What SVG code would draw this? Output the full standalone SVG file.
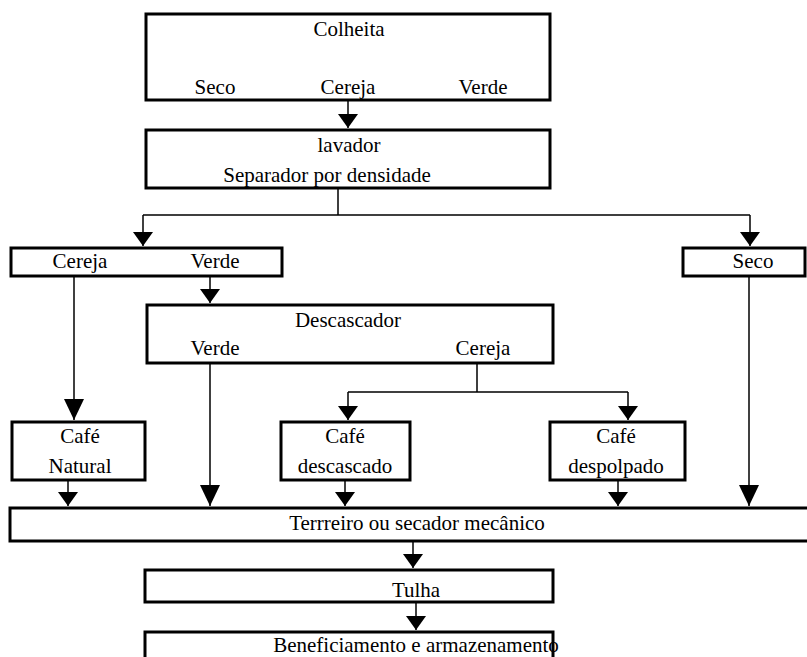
<svg xmlns="http://www.w3.org/2000/svg" width="807" height="657" viewBox="0 0 807 657">
  <style>
    .box { fill: #fff; stroke: #000; stroke-width: 3; }
    .lbl { font-family: "Liberation Serif", "Times New Roman", serif; font-size: 21px; fill: #000; text-anchor: middle; }
    .wire { fill: none; stroke: #000; stroke-width: 1.5; }
    .arr { marker-end: url(#head); }
    .arrL { marker-end: url(#headLong); }
  </style>
  <defs>
    <!-- filled triangular head: 14 long, 20 wide -->
    <marker id="head" viewBox="0 0 14 20" refX="14" refY="10" markerWidth="14" markerHeight="20" markerUnits="userSpaceOnUse" orient="auto">
      <path d="M0,0 L14,10 L0,20 Z" fill="#000"/>
    </marker>
    <!-- longer head used on the tall drop lines -->
    <marker id="headLong" viewBox="0 0 21 20" refX="21" refY="10" markerWidth="21" markerHeight="20" markerUnits="userSpaceOnUse" orient="auto">
      <path d="M0,0 L21,10 L0,20 Z" fill="#000"/>
    </marker>
  </defs>
  <rect width="807" height="657" fill="#fff"/>

  <g id="connectors">
    <path class="wire arr" d="M348,100 V128"/>
    <path class="wire" d="M338,188 V215 M143,215 H750"/>
    <path class="wire arr" d="M143,215 V246"/>
    <path class="wire arr" d="M750,215 V246"/>
    <path class="wire arrL" d="M74,276 V420"/>
    <path class="wire arr" d="M210,276 V303"/>
    <path class="wire" d="M477,363 V392 M348,392 H628"/>
    <path class="wire arr" d="M348,392 V420"/>
    <path class="wire arr" d="M628,392 V420"/>
    <path class="wire arrL" d="M210,363 V506"/>
    <path class="wire arrL" d="M749,276 V506"/>
    <path class="wire arr" d="M68,480 V506"/>
    <path class="wire arr" d="M345,480 V506"/>
    <path class="wire arr" d="M618,480 V506"/>
    <path class="wire arr" d="M413,541 V568"/>
    <path class="wire arr" d="M416,602 V630"/>
  </g>

  <g id="colheita">
    <rect class="box" x="146" y="14" width="404" height="86"/>
    <text class="lbl" x="349" y="36">Colheita</text>
    <text class="lbl" x="215" y="94">Seco</text>
    <text class="lbl" x="348" y="94">Cereja</text>
    <text class="lbl" x="483" y="94">Verde</text>
  </g>

  <g id="lavador">
    <rect class="box" x="146" y="130" width="404" height="58"/>
    <text class="lbl" x="349" y="152">lavador</text>
    <text class="lbl" x="327" y="182">Separador por densidade</text>
  </g>

  <g id="cereja-verde">
    <rect class="box" x="11" y="248" width="271" height="28"/>
    <text class="lbl" x="80" y="268">Cereja</text>
    <text class="lbl" x="215" y="268">Verde</text>
  </g>

  <g id="seco">
    <rect class="box" x="683" y="248" width="122" height="28"/>
    <text class="lbl" x="753" y="268">Seco</text>
  </g>

  <g id="descascador">
    <rect class="box" x="147" y="305" width="406" height="58"/>
    <text class="lbl" x="348" y="327">Descascador</text>
    <text class="lbl" x="215" y="355">Verde</text>
    <text class="lbl" x="483" y="355">Cereja</text>
  </g>

  <g id="cafe-natural">
    <rect class="box" x="12" y="422" width="133" height="58"/>
    <text class="lbl" x="80" y="443">Café</text>
    <text class="lbl" x="80" y="473">Natural</text>
  </g>

  <g id="cafe-descascado">
    <rect class="box" x="281" y="422" width="129" height="58"/>
    <text class="lbl" x="345" y="443">Café</text>
    <text class="lbl" x="345" y="473">descascado</text>
  </g>

  <g id="cafe-despolpado">
    <rect class="box" x="550" y="422" width="135" height="58"/>
    <text class="lbl" x="616" y="443">Café</text>
    <text class="lbl" x="616" y="473">despolpado</text>
  </g>

  <g id="terreiro">
    <rect class="box" x="10" y="508" width="802" height="33"/>
    <text class="lbl" x="417" y="530">Terrreiro ou secador mecânico</text>
  </g>

  <g id="tulha">
    <rect class="box" x="145" y="570" width="408" height="32"/>
    <text class="lbl" x="416" y="597">Tulha</text>
  </g>

  <g id="beneficiamento">
    <rect class="box" x="145" y="632" width="408" height="32"/>
    <text class="lbl" x="416" y="652">Beneficiamento e armazenamento</text>
  </g>
</svg>
